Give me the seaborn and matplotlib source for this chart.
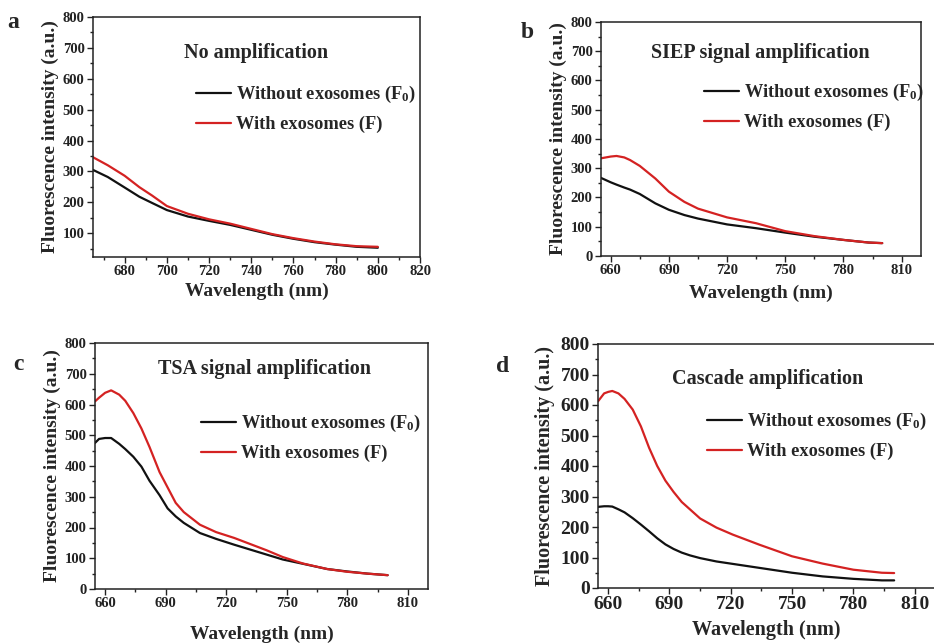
import numpy as np
import pandas as pd
import matplotlib
matplotlib.use("Agg")
import matplotlib.pyplot as plt
from matplotlib.ticker import MultipleLocator
import seaborn as sns

# ---- spectra (wavelength in nm, intensity in a.u.) ----
# (a) no amplification
wl_a = [665, 672, 680, 687, 693, 700, 710, 720, 730, 740, 750, 760, 770, 780, 790, 800]
f0_a = [305, 282, 248, 218, 198, 175, 154, 140, 127, 111, 95, 82, 71, 63, 56, 53]
f_a = [346, 320, 286, 249, 222, 188, 163, 145, 131, 114, 97, 84, 73, 64, 58, 56]

# (b) SIEP signal amplification
wl_b = [655, 660, 663, 667, 670, 675, 683, 690, 698, 705, 720, 735, 750, 765, 780, 793, 800]
f0_b = [267, 252, 244, 234, 227, 212, 180, 158, 140, 128, 108, 95, 80, 66, 55, 46, 44]
f_b = [334, 340, 342, 337, 328, 308, 265, 220, 185, 162, 132, 112, 85, 68, 55, 46, 44]

# (c) TSA signal amplification
wl_c = [655, 657, 660, 663, 667, 670, 674, 678, 682, 687, 691, 695, 699, 707, 715, 724,
        732, 740, 748, 758, 770, 780, 790, 800]
f0_c = [475, 488, 491, 491, 472, 455, 430, 398, 352, 305, 262, 236, 215, 182, 163, 144,
        128, 112, 96, 82, 65, 57, 50, 45]
f_c = [610, 622, 638, 646, 632, 612, 572, 522, 462, 380, 330, 280, 250, 209, 185, 166,
       146, 126, 104, 83, 65, 56, 50, 45]

# (d) cascade amplification
wl_d = [655, 658, 660, 662, 665, 668, 672, 676, 680, 684, 688, 692, 696, 700, 705, 713,
        721, 734, 750, 765, 780, 794, 800]
f0_d = [266, 268, 268, 267, 258, 248, 229, 208, 186, 163, 143, 128, 116, 107, 98, 87,
        79, 66, 50, 38, 30, 25, 25]
f_d = [612, 638, 643, 646, 638, 620, 585, 530, 460, 400, 352, 315, 282, 258, 228, 198,
       175, 142, 104, 80, 60, 50, 49]

panel_letters = ["a", "b", "c", "d"]
panel_titles = ["No amplification", "SIEP signal amplification",
                "TSA signal amplification", "Cascade amplification"]
series_labels = ["Without exosomes (F$_0$)", "With exosomes (F)"]

sns.set_theme(style="ticks")
plt.rcParams["font.family"] = ["Liberation Serif", "DejaVu Serif"]
plt.rcParams["font.weight"] = "bold"
plt.rcParams["mathtext.fontset"] = "custom"
plt.rcParams["mathtext.rm"] = "Liberation Serif:bold"
plt.rcParams["mathtext.it"] = "Liberation Serif:bold"
plt.rcParams["mathtext.bf"] = "Liberation Serif:bold"
plt.rcParams["mathtext.default"] = "rm"

W, H = 934, 644
fig = plt.figure(figsize=(W / 100, H / 100), dpi=100)


def rect(l, t, r, b):
    return [l / W, 1 - b / H, (r - l) / W, (b - t) / H]


def fx(x):
    return x / W


def fy(y):
    return 1 - y / H


palette = {series_labels[0]: "#111111", series_labels[1]: "#d42222"}

panels = [
    dict(data=(wl_a, f0_a, f_a), box=(93, 17, 420, 257), xlim=(665, 820), ylim=(23, 800),
         xmaj=20, xmin=10, tick_fs=10.5, lab_fs=14, xpad=3, ypad=3,
         letter=(13, 22), title=(256, 53), leg=(196, 84), fs_text=13.2),
    dict(data=(wl_b, f0_b, f_b), box=(601, 22, 921, 256), xlim=(655, 820), ylim=(0, 800),
         xmaj=30, xmin=15, tick_fs=10.5, lab_fs=14, xpad=5, ypad=3,
         letter=(527, 33), title=(760, 53), leg=(704, 82), fs_text=13.2),
    dict(data=(wl_c, f0_c, f_c), box=(95, 343, 428, 589), xlim=(655, 820), ylim=(0, 800),
         xmaj=30, xmin=15, tick_fs=10.5, lab_fs=14, xpad=11, ypad=3,
         letter=(18, 365), title=(265, 369), leg=(201, 413), fs_text=13.2),
    dict(data=(wl_d, f0_d, f_d), box=(598, 344, 935, 588), xlim=(655, 820), ylim=(0, 800),
         xmaj=30, xmin=15, tick_fs=14, lab_fs=14.5, xpad=5, ypad=4,
         letter=(503, 367), title=(768, 379), leg=(707, 411), fs_text=13.2),
]

for i, p in enumerate(panels):
    wl, f0, f = p["data"]
    df = pd.DataFrame({
        "Wavelength": list(wl) + list(wl),
        "Intensity": list(f0) + list(f),
        "Sample": [series_labels[0]] * len(wl) + [series_labels[1]] * len(wl),
    })
    ax = fig.add_axes(rect(*p["box"]))
    sns.lineplot(data=df, x="Wavelength", y="Intensity", hue="Sample",
                 palette=palette, linewidth=1.6, ax=ax, legend=True)
    ax.set_xlim(*p["xlim"])
    ax.set_ylim(*p["ylim"])
    ax.xaxis.set_major_locator(MultipleLocator(p["xmaj"]))
    ax.xaxis.set_minor_locator(MultipleLocator(p["xmin"]))
    ax.yaxis.set_major_locator(MultipleLocator(100))
    ax.yaxis.set_minor_locator(MultipleLocator(50))
    ax.tick_params(which="both", direction="out", top=False, right=False,
                   width=1.0, colors="#222222")
    ax.tick_params(which="major", length=4, labelsize=p["tick_fs"], pad=2)
    ax.tick_params(which="minor", length=2.5)
    for lab in ax.get_xticklabels() + ax.get_yticklabels():
        lab.set_fontweight("bold")
    for s in ax.spines.values():
        s.set_visible(True)
        s.set_linewidth(1.1)
        s.set_color("#222222")
    ax.set_xlabel("Wavelength (nm)", fontsize=p["lab_fs"], fontweight="bold",
                  labelpad=p["xpad"])
    ax.set_ylabel("Fluorescence intensity (a.u.)", fontsize=p["lab_fs"],
                  fontweight="bold", labelpad=p["ypad"])
    ax.grid(False)

    handles, labels = ax.get_legend_handles_labels()
    lx, ly = p["leg"]
    ax.legend(handles, labels, loc="upper left", bbox_to_anchor=(fx(lx), fy(ly)),
              bbox_transform=fig.transFigure, frameon=False, borderpad=0,
              borderaxespad=0, handlelength=1.9, handletextpad=0.3,
              labelspacing=0.6, prop=dict(family="Liberation Serif", weight="bold",
                                          size=p["fs_text"]))

    tx, ty = p["title"]
    fig.text(fx(tx), fy(ty), panel_titles[i], ha="center", va="center",
             fontsize=p["fs_text"] + 1.3, fontweight="bold")
    px, py = p["letter"]
    fig.text(fx(px), fy(py), panel_letters[i], ha="center", va="center",
             fontsize=17, fontweight="bold")

fig.savefig("out.png", dpi=100, facecolor="white")
